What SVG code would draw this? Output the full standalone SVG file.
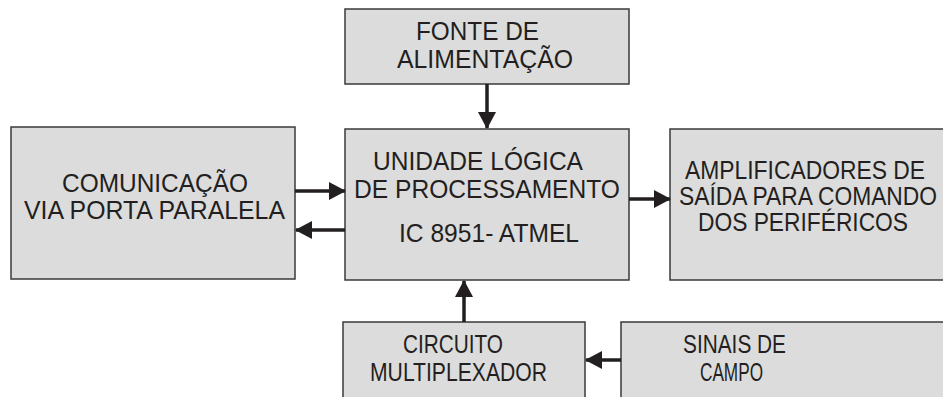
<svg xmlns="http://www.w3.org/2000/svg" width="943" height="397" viewBox="0 0 943 397">
<style>
.box{fill:#dcdcdc;stroke:#3a3a3a;stroke-width:1.5}
.t{font-family:"Liberation Sans",Arial,sans-serif;font-size:25px;fill:#231f20}
.c{stroke:#231f20;stroke-width:3.5;fill:none;marker-end:url(#ah)}
</style>
<defs>
<marker id="ah" markerUnits="userSpaceOnUse" markerWidth="17" markerHeight="18" refX="16" refY="9" orient="auto">
<path d="M0,0 L17,9 L0,18 Z" fill="#231f20"/>
</marker>
</defs>
<rect width="943" height="397" fill="#ffffff"/>
<g id="fonte">
<rect class="box" x="345" y="9" width="284" height="75"/>
<text class="t" x="416" y="40" textLength="123" lengthAdjust="spacingAndGlyphs">FONTE DE</text>
<text class="t" x="397" y="68" textLength="176" lengthAdjust="spacingAndGlyphs">ALIMENTAÇÃO</text>
</g>
<g id="unidade">
<rect class="box" x="345" y="129" width="284" height="151"/>
<text class="t" x="373" y="170" textLength="210" lengthAdjust="spacingAndGlyphs">UNIDADE LÓGICA</text>
<text class="t" x="354" y="198" textLength="266" lengthAdjust="spacingAndGlyphs">DE PROCESSAMENTO</text>
<text class="t" x="399" y="242" textLength="180" lengthAdjust="spacingAndGlyphs">IC 8951- ATMEL</text>
</g>
<g id="comunicacao">
<rect class="box" x="11" y="127" width="284" height="152"/>
<text class="t" x="62" y="192" textLength="186" lengthAdjust="spacingAndGlyphs">COMUNICAÇÃO</text>
<text class="t" x="24" y="219" textLength="261" lengthAdjust="spacingAndGlyphs">VIA PORTA PARALELA</text>
</g>
<g id="amplificadores">
<rect class="box" x="670" y="129" width="285" height="151"/>
<text class="t" x="685" y="179" textLength="240" lengthAdjust="spacingAndGlyphs">AMPLIFICADORES DE</text>
<text class="t" x="679" y="205" textLength="258" lengthAdjust="spacingAndGlyphs">SAÍDA PARA COMANDO</text>
<text class="t" x="698" y="231" textLength="210" lengthAdjust="spacingAndGlyphs">DOS PERIFÉRICOS</text>
</g>
<g id="multiplexador">
<rect class="box" x="343" y="322" width="242" height="85"/>
<text class="t" x="403" y="353" textLength="100" lengthAdjust="spacingAndGlyphs">CIRCUITO</text>
<text class="t" x="370" y="381" textLength="177" lengthAdjust="spacingAndGlyphs">MULTIPLEXADOR</text>
</g>
<g id="sinais">
<rect class="box" x="621" y="322" width="335" height="85"/>
<text class="t" x="683" y="353" textLength="103" lengthAdjust="spacingAndGlyphs">SINAIS DE</text>
<text class="t" x="700" y="381" textLength="63" lengthAdjust="spacingAndGlyphs">CAMPO</text>
</g>
<g id="connectors">
<path class="c" d="M487,84 V128"/>
<path class="c" d="M295,191 H345"/>
<path class="c" d="M345,230 H296"/>
<path class="c" d="M629,199 H670"/>
<path class="c" d="M464,322 V281"/>
<path class="c" d="M621,360 H586"/>
</g>
</svg>
